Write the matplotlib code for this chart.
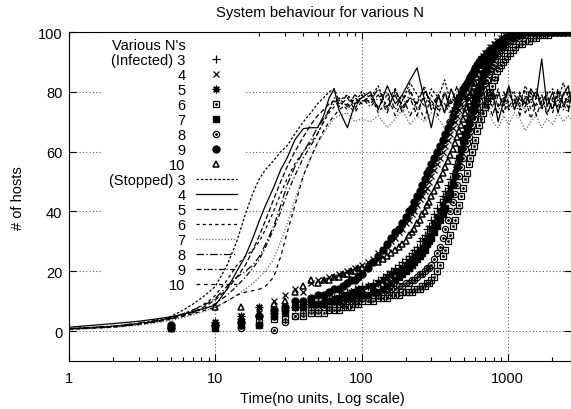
import matplotlib
matplotlib.use('Agg')
import matplotlib.pyplot as plt
from matplotlib.lines import Line2D
from matplotlib.legend_handler import HandlerTuple
from matplotlib.ticker import NullFormatter

plt.rcParams['font.family'] = ['Liberation Sans', 'DejaVu Sans']
plt.rcParams['font.size'] = 10.5

# sample times of the "infected" point series
t_inf = [5, 10, 15, 20, 25, 30, 35, 40, 45, 50, 55, 60, 65, 70, 75, 80, 85, 90, 95, 100,
         110, 120, 130, 140, 150, 160, 170, 180, 190, 200, 210, 220, 230, 240, 250, 260, 270, 280, 290, 300,
         315, 330, 345, 360, 375, 390, 405, 420, 435, 450, 465, 480, 495, 510, 525, 540, 555, 570, 585, 600,
         620, 640, 660, 680, 700, 720, 740, 760, 780, 800, 825, 850, 875, 900, 930, 960, 990,
         1030, 1080, 1130, 1190, 1250, 1320, 1400, 1480, 1570, 1670, 1780, 1900, 2030, 2170, 2320, 2480, 2650]

inf3 = [1, 2, 4, 5, 6, 7, 8, 9, 9, 10, 10, 11, 11, 12, 12, 13, 13, 14, 14, 15,
        15, 16, 17, 18, 19, 20, 21, 22, 23, 24, 25, 26, 27, 28, 30, 31, 32, 34, 35, 37,
        39, 41, 43, 45, 47, 49, 51, 53, 56, 58, 60, 62, 64, 66, 68, 70, 72, 74, 76, 78,
        80, 82, 84, 86, 87, 89, 90, 91, 92, 93, 94, 95, 96, 96, 97, 97, 98,
        98, 99, 99, 99, 100, 100, 100, 100, 100, 100, 100, 100, 100, 100, 100, 100, 100]
inf4 = [1, 2, 5, 6, 10, 12, 14, 13, 16, 17, 17, 18, 18, 19, 19, 20, 20, 21, 21, 22,
        23, 24, 26, 27, 28, 30, 31, 33, 34, 36, 37, 39, 40, 42, 44, 45, 47, 48, 50, 52,
        54, 56, 58, 60, 62, 64, 66, 68, 70, 72, 74, 76, 78, 80, 81, 83, 84, 85, 87, 88,
        89, 90, 91, 92, 93, 93, 94, 95, 95, 96, 96, 97, 97, 98, 98, 99, 99,
        99, 100, 100, 100, 100, 100, 100, 100, 100, 100, 100, 100, 100, 100, 100, 100, 100]
inf5 = [1, 3, 5, 8, 6, 7, 8, 8, 9, 9, 10, 10, 11, 11, 12, 12, 13, 13, 14, 14,
        15, 15, 16, 17, 18, 19, 20, 20, 21, 22, 23, 24, 25, 26, 27, 28, 30, 31, 32, 34,
        36, 38, 40, 42, 44, 46, 48, 50, 53, 55, 57, 60, 62, 64, 66, 68, 70, 72, 74, 76,
        78, 80, 82, 84, 86, 87, 89, 90, 91, 92, 93, 94, 95, 96, 96, 97, 97,
        98, 98, 99, 99, 99, 100, 100, 100, 100, 100, 100, 100, 100, 100, 100, 100, 100]
inf6 = [1, 1, 2, 3, 4, 4, 5, 5, 6, 6, 6, 7, 7, 7, 8, 8, 8, 9, 9, 10,
        10, 10, 11, 11, 11, 12, 12, 12, 13, 13, 13, 13, 14, 14, 14, 15, 15, 16, 16, 17,
        18, 20, 22, 25, 27, 30, 32, 35, 37, 40, 42, 45, 48, 51, 53, 56, 58, 60, 62, 64,
        67, 69, 71, 73, 75, 77, 79, 80, 82, 84, 85, 87, 88, 89, 90, 91, 92,
        93, 94, 95, 96, 96, 97, 97, 98, 98, 99, 99, 99, 100, 100, 100, 100, 100]
inf7 = [1, 1, 2, 2, 5, 6, 8, 8, 9, 9, 9, 10, 10, 10, 11, 11, 11, 12, 12, 12,
        12, 13, 13, 14, 15, 16, 17, 18, 19, 20, 21, 22, 23, 24, 25, 26, 27, 29, 30, 31,
        33, 35, 37, 39, 41, 44, 46, 49, 52, 55, 58, 61, 64, 66, 68, 70, 72, 74, 76, 78,
        80, 82, 84, 86, 88, 89, 90, 91, 92, 93, 94, 95, 96, 96, 97, 97, 98,
        98, 99, 99, 99, 100, 100, 100, 100, 100, 100, 100, 100, 100, 100, 100, 100, 100]
inf8 = [1, 2, 1, 2, 0.5, 3, 5, 6, 7, 7, 8, 8, 9, 9, 9, 10, 10, 10, 11, 11,
        11, 12, 12, 13, 13, 14, 14, 15, 15, 16, 16, 17, 17, 18, 19, 19, 20, 21, 21, 22,
        24, 26, 28, 31, 34, 37, 40, 43, 46, 49, 52, 55, 58, 61, 63, 65, 67, 69, 71, 73,
        75, 77, 79, 81, 83, 84, 86, 87, 88, 89, 91, 92, 93, 94, 95, 95, 96,
        97, 97, 98, 98, 99, 99, 100, 100, 100, 100, 100, 100, 100, 100, 100, 100, 100]
inf9 = [2, 2, 3, 5, 7, 8, 10, 10, 11, 12, 12, 13, 14, 14, 15, 16, 17, 17, 18, 19,
        21, 23, 25, 27, 29, 31, 33, 34, 36, 38, 40, 41, 43, 45, 47, 49, 51, 53, 54, 56,
        58, 60, 62, 64, 66, 68, 70, 72, 74, 76, 78, 79, 81, 82, 83, 84, 85, 86, 87, 88,
        89, 90, 91, 91, 92, 93, 93, 94, 94, 95, 95, 96, 96, 97, 97, 98, 98,
        99, 99, 100, 100, 100, 100, 100, 100, 100, 100, 100, 100, 100, 100, 100, 100, 100]
inf10 = [2, 8, 8, 6, 9, 10, 13, 15, 17, 16, 17, 17, 18, 18, 19, 19, 20, 20, 21, 21,
         22, 23, 23, 24, 25, 26, 27, 28, 29, 30, 32, 33, 34, 36, 37, 39, 40, 42, 43, 45,
         47, 49, 51, 53, 55, 57, 59, 61, 63, 65, 67, 69, 71, 73, 75, 77, 79, 80, 82, 83,
         85, 86, 88, 89, 90, 91, 92, 93, 94, 94, 95, 96, 96, 97, 97, 98, 98,
         99, 99, 99, 100, 100, 100, 100, 100, 100, 100, 100, 100, 100, 100, 100, 100, 100]

# sample times of the "stopped" line series
t_stop = [1, 2, 3, 4, 5, 6, 7, 8, 9, 10, 12, 14, 16, 18, 20, 22, 25, 28, 31, 35,
          40, 45, 50, 55, 60, 65, 70, 80, 90, 100,
          115, 130, 150, 170, 190, 215, 240, 270, 300, 335, 370, 410, 450, 500, 550, 600, 660,
          720, 790, 860, 940, 1020, 1110, 1210, 1320, 1440, 1570, 1710, 1860, 2030, 2210, 2400,
          2600, 2700]

stop3 = [0.8, 1.5, 2.5, 3.5, 5, 7, 9, 11, 13, 15, 22, 30, 39, 46, 51, 54, 57, 60, 62, 66,
         70, 73, 76, 78, 80, 81, 77, 79, 76, 80,
         78, 82, 74, 80, 77, 83, 79, 75, 81, 78, 84, 76, 79, 82, 74, 80, 78,
         83, 77, 80, 75, 81, 79, 76, 82, 78, 80, 74, 79, 81, 77, 83, 78, 80]
stop4 = [1.3, 2.5, 3.3, 4.1, 4.8, 5.6, 6.5, 7.3, 8, 8.7, 14, 20, 25, 31, 37, 42, 48, 54, 58, 64,
         67.7, 68, 68, 72, 78, 81, 74, 68, 76, 78,
         80, 74, 82, 76, 79, 84, 88, 77, 68, 79, 73, 81, 76, 80, 72, 78, 83,
         75, 80, 70, 77, 82, 74, 79, 76, 81, 78, 91, 75, 80, 73, 79, 82, 77]
stop5 = [0.8, 1.6, 2.5, 3.4, 4.3, 5.3, 6.4, 7.6, 9, 10.5, 14, 18, 22, 27, 32, 37, 44, 50, 55, 60,
         65, 69, 72, 74, 76, 77, 75, 78, 74, 79,
         76, 79, 73, 81, 75, 78, 72, 80, 77, 74, 79, 76, 82, 73, 78, 75, 80,
         77, 72, 79, 76, 81, 74, 78, 75, 80, 72, 77, 79, 74, 81, 76, 78, 75]
stop6 = [0.6, 1.4, 2.3, 3.3, 4.4, 5.7, 7, 8.5, 10, 12, 17, 22, 25, 27, 30, 34, 40, 46, 51, 56,
         60, 63, 66, 70, 73, 75, 77, 74, 78, 76,
         79, 73, 77, 81, 74, 78, 76, 71, 79, 75, 80, 73, 77, 74, 79, 76, 72,
         78, 75, 81, 73, 77, 80, 74, 78, 71, 76, 79, 73, 77, 75, 80, 74, 78]
stop7 = [0.5, 1.2, 2, 2.8, 3.6, 4.5, 5.4, 6.3, 7.2, 8, 10, 12, 14, 16, 18, 20, 24, 30, 36, 44,
         52, 58, 63, 66, 69, 71, 72, 73, 70, 71,
         70, 72, 68, 71, 74, 69, 72, 70, 73, 71, 68, 72, 74, 70, 73, 69, 71,
         75, 70, 68, 72, 69, 73, 71, 67, 70, 72, 68, 71, 69, 73, 70, 72, 71]
stop8 = [0.8, 1.7, 2.7, 3.7, 4.7, 5.8, 7, 8.3, 9.5, 11, 15, 18, 20, 22, 25, 29, 35, 42, 49, 55,
         60, 64, 68, 71, 74, 76, 78, 75, 79, 77,
         77, 81, 75, 79, 73, 80, 76, 82, 74, 78, 76, 72, 79, 75, 81, 77, 74,
         79, 76, 73, 80, 75, 78, 72, 79, 76, 81, 75, 78, 74, 80, 76, 73, 79]
stop9 = [0.7, 1.5, 2.4, 3.3, 4.2, 5.1, 6.1, 7.1, 8.1, 9.2, 12, 15, 18, 21, 24, 28, 34, 40, 46, 52,
         58, 62, 66, 70, 74, 78, 76, 79, 75, 78,
         75, 78, 80, 74, 79, 72, 77, 81, 75, 79, 73, 78, 76, 80, 74, 77, 70,
         79, 81, 75, 78, 74, 76, 80, 73, 78, 75, 79, 72, 78, 76, 74, 80, 77]
stop10 = [0.6, 1.3, 2.2, 3.1, 4, 4.9, 5.8, 6.6, 7.3, 8, 10, 12, 13, 13.5, 14, 15, 18, 25, 33, 42,
          52, 58, 63, 67, 70, 72, 74, 76, 73, 77,
          78, 75, 79, 72, 77, 81, 74, 78, 76, 72, 80, 75, 73, 79, 77, 71, 78,
          74, 80, 76, 73, 79, 77, 75, 81, 74, 78, 76, 80, 73, 79, 75, 77, 76]

infected = [(3, inf3), (4, inf4), (5, inf5), (6, inf6), (7, inf7), (8, inf8), (9, inf9), (10, inf10)]
stopped = [(3, stop3), (4, stop4), (5, stop5), (6, stop6), (7, stop7), (8, stop8), (9, stop9), (10, stop10)]

inf_styles = {
    3: dict(marker='+', ms=5.5, mew=0.9),
    4: dict(marker='x', ms=4.5, mew=0.9),
    5: dict(marker=(8, 2, 0), ms=5.5, mew=0.9),
    6: dict(marker='s', ms=4.5, mew=0.9, mfc='none'),
    7: dict(marker='s', ms=5),
    8: dict(marker='o', ms=4.5, mew=0.9, mfc='none'),
    9: dict(marker='o', ms=5),
    10: dict(marker='^', ms=5, mew=1.1, mfc='none'),
}
dotted_centre = (6, 8)

stop_styles = {
    3: dict(ls=(0, (2, 1.5))),
    4: dict(ls='-'),
    5: dict(ls=(0, (4, 2))),
    6: dict(ls=(0, (2.5, 2.5))),
    7: dict(ls=(0, (1, 1.5)), color='0.4'),
    8: dict(ls=(0, (6, 2, 1, 2))),
    9: dict(ls=(0, (4, 2, 1, 2))),
    10: dict(ls=(0, (3, 3))),
}

fig = plt.figure(figsize=(5.71, 4.10), dpi=100)
ax = fig.add_axes([0.1214, 0.1171, 0.8781, 0.8024])

handles = [Line2D([], [], ls='none')]
labels = ["Various N's"]
for n, vals in infected:
    h = ax.plot(t_inf, vals, ls='none', color='k', **inf_styles[n])[0]
    if n in dotted_centre:
        d = ax.plot(t_inf, vals, ls='none', color='k', marker='.', ms=2)[0]
        h = (h, d)
    handles.append(h)
    labels.append('(Infected) %d' % n if n == 3 else str(n))

for n, vals in stopped:
    st = dict(color='k', lw=0.9)
    st.update(stop_styles[n])
    h = ax.plot(t_stop, vals, **st)[0]
    handles.append(h)
    labels.append('(Stopped) %d' % n if n == 3 else str(n))

ax.set_xscale('log')
ax.set_xlim(1, 2700)
ax.set_ylim(-10, 100)
ax.set_yticks([0, 20, 40, 60, 80, 100])
ax.set_xticks([1, 10, 100, 1000], ['1', '10', '100', '1000'])
ax.xaxis.set_minor_formatter(NullFormatter())
ax.tick_params(which='both', direction='in', top=True, right=True, width=0.8)
ax.tick_params(which='major', length=5)
ax.tick_params(which='minor', length=3)
ax.tick_params(axis='x', pad=7)
ax.tick_params(axis='y', pad=5)
ax.set_axisbelow(True)
ax.grid(True, which='major', ls=(0, (1, 2)), color='0.35', lw=0.8)

leg = ax.legend(handles, labels, loc='upper right',
                bbox_to_anchor=(244 / 571, 1 - 32 / 410), bbox_transform=fig.transFigure,
                markerfirst=False, numpoints=1, handlelength=2.8, handletextpad=0.7,
                labelspacing=0.066, borderpad=0.5, borderaxespad=0,
                frameon=True, fancybox=False, framealpha=1,
                facecolor='white', edgecolor='none',
                handler_map={tuple: HandlerTuple(ndivide=1)})
leg.set_zorder(1)

ax.set_title('System behaviour for various N', pad=11.5, fontsize=10.7)
ax.set_xlabel('Time(no units, Log scale)')
ax.xaxis.set_label_coords(0.504, -0.091)
ax.set_ylabel('# of hosts')
ax.yaxis.set_label_coords(-0.088, 0.498)

fig.savefig('out.png', dpi=100)
